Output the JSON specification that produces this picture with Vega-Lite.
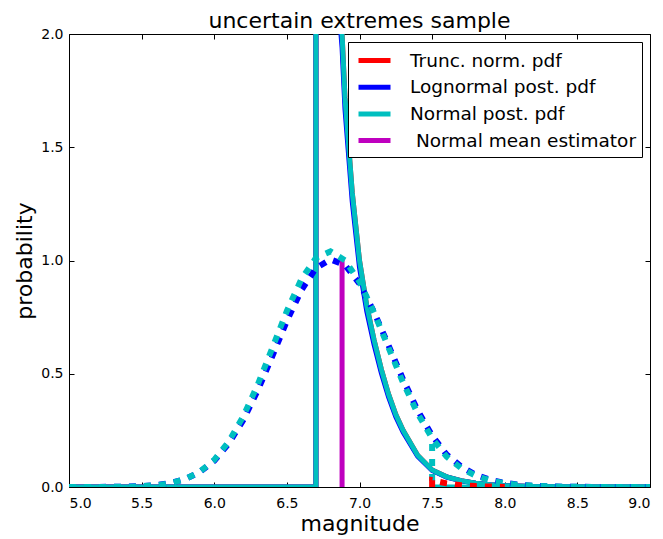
{
  "$schema": "https://vega.github.io/schema/vega-lite/v6.json",
  "width": 581,
  "height": 453,
  "autosize": {"type": "none"},
  "padding": {"left": 69, "top": 34, "right": 13, "bottom": 52},
  "config": {
    "font": "DejaVu Sans",
    "view": {"stroke": "#000000", "strokeWidth": 1},
    "axis": {"labelFont": "DejaVu Sans", "titleFont": "DejaVu Sans", "labelFontSize": 14, "titleFontSize": 22, "titleFontWeight": "normal", "labelColor": "#000", "titleColor": "#000", "tickColor": "#000", "grid": false, "domain": false, "tickSize": -5, "ticks": true},
    "legend": {"labelFont": "DejaVu Sans", "labelFontSize": 18.5, "labelColor": "#000"}
  },
  "title": {"text": "uncertain extremes sample", "font": "DejaVu Sans", "fontSize": 22, "fontWeight": "normal", "color": "#000", "offset": -6},
  "resolve": {"axis": {"x": "independent", "y": "independent"}},
  "data": {"values": [
    {"s": "Trunc. norm. pdf", "x": 5.0, "y": 0},
    {"s": "Trunc. norm. pdf", "x": 6.7, "y": 0},
    {"s": "Trunc. norm. pdf", "x": 6.7, "y": 4.6},
    {"s": "Trunc. norm. pdf", "x": 6.75, "y": 3.6},
    {"s": "Trunc. norm. pdf", "x": 6.8, "y": 2.85},
    {"s": "Trunc. norm. pdf", "x": 6.85, "y": 2.25},
    {"s": "Trunc. norm. pdf", "x": 6.88, "y": 2.0},
    {"s": "Trunc. norm. pdf", "x": 6.9, "y": 1.72},
    {"s": "Trunc. norm. pdf", "x": 6.95, "y": 1.3},
    {"s": "Trunc. norm. pdf", "x": 7.0, "y": 1.0},
    {"s": "Trunc. norm. pdf", "x": 7.05, "y": 0.8},
    {"s": "Trunc. norm. pdf", "x": 7.1, "y": 0.65},
    {"s": "Trunc. norm. pdf", "x": 7.15, "y": 0.52},
    {"s": "Trunc. norm. pdf", "x": 7.2, "y": 0.41},
    {"s": "Trunc. norm. pdf", "x": 7.25, "y": 0.32},
    {"s": "Trunc. norm. pdf", "x": 7.3, "y": 0.25},
    {"s": "Trunc. norm. pdf", "x": 7.4, "y": 0.14},
    {"s": "Trunc. norm. pdf", "x": 7.5, "y": 0.075},
    {"s": "Trunc. norm. pdf", "x": 7.6, "y": 0.045},
    {"s": "Trunc. norm. pdf", "x": 7.7, "y": 0.028},
    {"s": "Trunc. norm. pdf", "x": 7.8, "y": 0.017},
    {"s": "Trunc. norm. pdf", "x": 7.9, "y": 0.01},
    {"s": "Trunc. norm. pdf", "x": 8.0, "y": 0.006},
    {"s": "Trunc. norm. pdf", "x": 8.2, "y": 0.002},
    {"s": "Trunc. norm. pdf", "x": 8.5, "y": 0.0005},
    {"s": "Trunc. norm. pdf", "x": 9.0, "y": 0},

    {"s": "Lognormal post. pdf", "x": 5.0, "y": 0},
    {"s": "Lognormal post. pdf", "x": 6.7, "y": 0},
    {"s": "Lognormal post. pdf", "x": 6.7, "y": 4.46},
    {"s": "Lognormal post. pdf", "x": 6.75, "y": 3.49},
    {"s": "Lognormal post. pdf", "x": 6.8, "y": 2.76},
    {"s": "Lognormal post. pdf", "x": 6.85, "y": 2.18},
    {"s": "Lognormal post. pdf", "x": 6.88, "y": 1.94},
    {"s": "Lognormal post. pdf", "x": 6.9, "y": 1.67},
    {"s": "Lognormal post. pdf", "x": 6.95, "y": 1.26},
    {"s": "Lognormal post. pdf", "x": 7.0, "y": 0.97},
    {"s": "Lognormal post. pdf", "x": 7.05, "y": 0.776},
    {"s": "Lognormal post. pdf", "x": 7.1, "y": 0.63},
    {"s": "Lognormal post. pdf", "x": 7.15, "y": 0.504},
    {"s": "Lognormal post. pdf", "x": 7.2, "y": 0.398},
    {"s": "Lognormal post. pdf", "x": 7.25, "y": 0.31},
    {"s": "Lognormal post. pdf", "x": 7.3, "y": 0.243},
    {"s": "Lognormal post. pdf", "x": 7.4, "y": 0.136},
    {"s": "Lognormal post. pdf", "x": 7.5, "y": 0.073},
    {"s": "Lognormal post. pdf", "x": 7.6, "y": 0.044},
    {"s": "Lognormal post. pdf", "x": 7.7, "y": 0.027},
    {"s": "Lognormal post. pdf", "x": 7.8, "y": 0.0165},
    {"s": "Lognormal post. pdf", "x": 7.9, "y": 0.0097},
    {"s": "Lognormal post. pdf", "x": 8.0, "y": 0.0058},
    {"s": "Lognormal post. pdf", "x": 8.2, "y": 0.0019},
    {"s": "Lognormal post. pdf", "x": 8.5, "y": 0.0005},
    {"s": "Lognormal post. pdf", "x": 9.0, "y": 0},

    {"s": "Normal post. pdf", "x": 5.0, "y": 0},
    {"s": "Normal post. pdf", "x": 6.7, "y": 0},
    {"s": "Normal post. pdf", "x": 6.7, "y": 4.6},
    {"s": "Normal post. pdf", "x": 6.75, "y": 3.6},
    {"s": "Normal post. pdf", "x": 6.8, "y": 2.85},
    {"s": "Normal post. pdf", "x": 6.85, "y": 2.25},
    {"s": "Normal post. pdf", "x": 6.88, "y": 2.0},
    {"s": "Normal post. pdf", "x": 6.9, "y": 1.72},
    {"s": "Normal post. pdf", "x": 6.95, "y": 1.3},
    {"s": "Normal post. pdf", "x": 7.0, "y": 1.0},
    {"s": "Normal post. pdf", "x": 7.05, "y": 0.8},
    {"s": "Normal post. pdf", "x": 7.1, "y": 0.65},
    {"s": "Normal post. pdf", "x": 7.15, "y": 0.52},
    {"s": "Normal post. pdf", "x": 7.2, "y": 0.41},
    {"s": "Normal post. pdf", "x": 7.25, "y": 0.32},
    {"s": "Normal post. pdf", "x": 7.3, "y": 0.25},
    {"s": "Normal post. pdf", "x": 7.4, "y": 0.14},
    {"s": "Normal post. pdf", "x": 7.5, "y": 0.075},
    {"s": "Normal post. pdf", "x": 7.6, "y": 0.045},
    {"s": "Normal post. pdf", "x": 7.7, "y": 0.028},
    {"s": "Normal post. pdf", "x": 7.8, "y": 0.017},
    {"s": "Normal post. pdf", "x": 7.9, "y": 0.01},
    {"s": "Normal post. pdf", "x": 8.0, "y": 0.006},
    {"s": "Normal post. pdf", "x": 8.2, "y": 0.002},
    {"s": "Normal post. pdf", "x": 8.5, "y": 0.0005},
    {"s": "Normal post. pdf", "x": 9.0, "y": 0},

    {"s": "\u200b\u00a0Normal mean estimator", "x": 6.88, "y": 0},
    {"s": "\u200b\u00a0Normal mean estimator", "x": 6.88, "y": 1.01},

    {"s": "zero", "x": 7.5, "y": 0},
    {"s": "zero", "x": 9.0, "y": 0},

    {"s": "logn_dot", "x": 5.0, "y": 0},
    {"s": "logn_dot", "x": 5.2, "y": 0.0002},
    {"s": "logn_dot", "x": 5.4, "y": 0.0015},
    {"s": "logn_dot", "x": 5.5, "y": 0.0036},
    {"s": "logn_dot", "x": 5.6, "y": 0.0082},
    {"s": "logn_dot", "x": 5.7, "y": 0.0175},
    {"s": "logn_dot", "x": 5.8, "y": 0.035},
    {"s": "logn_dot", "x": 5.9, "y": 0.066},
    {"s": "logn_dot", "x": 6.0, "y": 0.116},
    {"s": "logn_dot", "x": 6.1, "y": 0.192},
    {"s": "logn_dot", "x": 6.2, "y": 0.296},
    {"s": "logn_dot", "x": 6.3, "y": 0.427},
    {"s": "logn_dot", "x": 6.4, "y": 0.578},
    {"s": "logn_dot", "x": 6.5, "y": 0.733},
    {"s": "logn_dot", "x": 6.6, "y": 0.869},
    {"s": "logn_dot", "x": 6.7, "y": 0.966},
    {"s": "logn_dot", "x": 6.8, "y": 1.005},
    {"s": "logn_dot", "x": 6.9, "y": 0.98},
    {"s": "logn_dot", "x": 7.0, "y": 0.898},
    {"s": "logn_dot", "x": 7.1, "y": 0.773},
    {"s": "logn_dot", "x": 7.2, "y": 0.625},
    {"s": "logn_dot", "x": 7.3, "y": 0.475},
    {"s": "logn_dot", "x": 7.4, "y": 0.339},
    {"s": "logn_dot", "x": 7.5, "y": 0.227},
    {"s": "logn_dot", "x": 7.6, "y": 0.143},
    {"s": "logn_dot", "x": 7.7, "y": 0.09},
    {"s": "logn_dot", "x": 7.8, "y": 0.054},
    {"s": "logn_dot", "x": 7.9, "y": 0.032},
    {"s": "logn_dot", "x": 8.0, "y": 0.018},
    {"s": "logn_dot", "x": 8.1, "y": 0.01},
    {"s": "logn_dot", "x": 8.2, "y": 0.0054},
    {"s": "logn_dot", "x": 8.4, "y": 0.0015},
    {"s": "logn_dot", "x": 8.6, "y": 0.0004},
    {"s": "logn_dot", "x": 9.0, "y": 0},

    {"s": "norm_dot", "x": 5.0, "y": 0},
    {"s": "norm_dot", "x": 5.2, "y": 0.0002},
    {"s": "norm_dot", "x": 5.4, "y": 0.0013},
    {"s": "norm_dot", "x": 5.5, "y": 0.0033},
    {"s": "norm_dot", "x": 5.6, "y": 0.0077},
    {"s": "norm_dot", "x": 5.7, "y": 0.017},
    {"s": "norm_dot", "x": 5.8, "y": 0.035},
    {"s": "norm_dot", "x": 5.9, "y": 0.067},
    {"s": "norm_dot", "x": 6.0, "y": 0.12},
    {"s": "norm_dot", "x": 6.1, "y": 0.2},
    {"s": "norm_dot", "x": 6.2, "y": 0.312},
    {"s": "norm_dot", "x": 6.3, "y": 0.453},
    {"s": "norm_dot", "x": 6.4, "y": 0.614},
    {"s": "norm_dot", "x": 6.5, "y": 0.777},
    {"s": "norm_dot", "x": 6.6, "y": 0.918},
    {"s": "norm_dot", "x": 6.7, "y": 1.011},
    {"s": "norm_dot", "x": 6.8, "y": 1.04},
    {"s": "norm_dot", "x": 6.9, "y": 1.001},
    {"s": "norm_dot", "x": 7.0, "y": 0.906},
    {"s": "norm_dot", "x": 7.1, "y": 0.77},
    {"s": "norm_dot", "x": 7.2, "y": 0.615},
    {"s": "norm_dot", "x": 7.3, "y": 0.461},
    {"s": "norm_dot", "x": 7.4, "y": 0.325},
    {"s": "norm_dot", "x": 7.5, "y": 0.215},
    {"s": "norm_dot", "x": 7.6, "y": 0.134},
    {"s": "norm_dot", "x": 7.7, "y": 0.083},
    {"s": "norm_dot", "x": 7.8, "y": 0.05},
    {"s": "norm_dot", "x": 7.9, "y": 0.029},
    {"s": "norm_dot", "x": 8.0, "y": 0.016},
    {"s": "norm_dot", "x": 8.1, "y": 0.009},
    {"s": "norm_dot", "x": 8.2, "y": 0.0048},
    {"s": "norm_dot", "x": 8.4, "y": 0.0013},
    {"s": "norm_dot", "x": 8.6, "y": 0.0003},
    {"s": "norm_dot", "x": 9.0, "y": 0},

    {"s": "norm_trunc", "x": 7.5, "y": 0.19},
    {"s": "norm_trunc", "x": 7.5, "y": 0},

    {"s": "tn_dot", "x": 7.5, "y": 0},
    {"s": "tn_dot", "x": 7.5, "y": 0.03},
    {"s": "tn_dot", "x": 7.6, "y": 0.016},
    {"s": "tn_dot", "x": 7.7, "y": 0.008},
    {"s": "tn_dot", "x": 7.8, "y": 0.004},
    {"s": "tn_dot", "x": 7.9, "y": 0.002},
    {"s": "tn_dot", "x": 8.0, "y": 0}
  ]},
  "layer": [
    {
      "transform": [{"filter": {"field": "s", "oneOf": ["Trunc. norm. pdf", "Lognormal post. pdf", "Normal post. pdf", "\u200b\u00a0Normal mean estimator"]}}],
      "mark": {"type": "line", "clip": true, "strokeCap": "butt", "strokeJoin": "miter"},
      "encoding": {
        "x": {"field": "x", "type": "quantitative", "scale": {"domain": [5, 9], "nice": false, "zero": false}, "axis": {"orient": "bottom", "values": [5, 5.5, 6, 6.5, 7, 7.5, 8, 8.5, 9], "format": ".1f", "title": "magnitude", "labelPadding": 14, "titlePadding": 3}},
        "y": {"field": "y", "type": "quantitative", "scale": {"domain": [0, 2], "nice": false}, "axis": {"orient": "left", "values": [0, 0.5, 1, 1.5, 2], "format": ".1f", "title": "probability", "labelPadding": 11, "titlePadding": 4}},
        "order": {"value": null},
        "color": {"field": "s", "type": "nominal", "title": null,
          "scale": {"domain": ["Trunc. norm. pdf", "Lognormal post. pdf", "Normal post. pdf", "\u200b\u00a0Normal mean estimator"], "range": ["#ff0000", "#0000ff", "#00bfbf", "#bf00bf"]},
          "legend": {"orient": "top-right", "offset": 8, "symbolType": "M-1.6,0H1.6", "symbolSize": 400, "symbolOffset": 8, "padding": 6, "strokeColor": "#000000", "fillColor": "#ffffff", "cornerRadius": 0, "labelOffset": 23, "rowPadding": 3.7, "labelLimit": 400}},
        "strokeWidth": {"field": "s", "type": "nominal", "title": null,
          "scale": {"domain": ["Trunc. norm. pdf", "Lognormal post. pdf", "Normal post. pdf", "\u200b\u00a0Normal mean estimator"], "range": [5, 5, 5, 3]}}
      }
    },
    {
      "transform": [{"filter": {"field": "s", "equal": "zero"}}],
      "mark": {"type": "line", "clip": true, "color": "#00bfbf", "strokeWidth": 5, "strokeCap": "butt"},
      "encoding": {
        "x": {"field": "x", "type": "quantitative", "axis": null},
        "y": {"field": "y", "type": "quantitative", "axis": null},
        "order": {"value": null}
      }
    },
    {
      "transform": [{"filter": {"field": "s", "oneOf": ["tn_dot", "logn_dot", "norm_dot", "norm_trunc"]}}],
      "mark": {"type": "line", "clip": true, "strokeWidth": 6, "strokeDash": [7, 8], "strokeCap": "butt"},
      "encoding": {
        "x": {"field": "x", "type": "quantitative", "axis": {"orient": "top", "values": [5, 5.5, 6, 6.5, 7, 7.5, 8, 8.5, 9], "labels": false, "title": null}},
        "y": {"field": "y", "type": "quantitative", "axis": {"orient": "right", "values": [0, 0.5, 1, 1.5, 2], "labels": false, "title": null}},
        "order": {"value": null},
        "detail": {"field": "s"},
        "stroke": {"field": "s", "type": "nominal", "legend": null,
          "scale": {"domain": ["tn_dot", "logn_dot", "norm_dot", "norm_trunc"], "range": ["#ff0000", "#0000ff", "#00bfbf", "#00bfbf"]}}
      }
    }
  ]
}
